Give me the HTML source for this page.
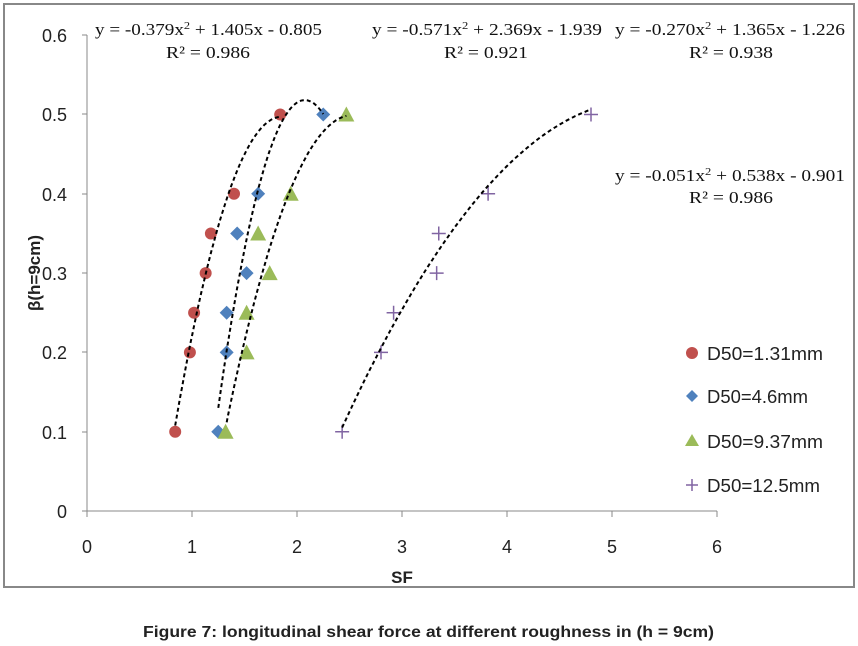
<!DOCTYPE html>
<html><head><meta charset="utf-8"><style>
body{margin:0;background:#fff;}
svg{display:block;}
.t{font-family:"Liberation Sans",sans-serif;fill:#222;}
.e{font-family:"Liberation Serif",serif;font-size:17px;fill:#111;}
</style></head><body>
<svg id="s" width="858" height="646" xmlns="http://www.w3.org/2000/svg">
<rect x="4" y="4" width="850" height="583" fill="#fff" stroke="#888" stroke-width="2"/>
<line x1="87" y1="35" x2="87" y2="511" stroke="#888"/>
<line x1="87" y1="511" x2="717" y2="511" stroke="#888"/>
<g stroke="#888">
<line x1="82" y1="35" x2="87" y2="35"/><line x1="82" y1="114" x2="87" y2="114"/><line x1="82" y1="194" x2="87" y2="194"/><line x1="82" y1="273" x2="87" y2="273"/><line x1="82" y1="352" x2="87" y2="352"/><line x1="82" y1="432" x2="87" y2="432"/><line x1="82" y1="511" x2="87" y2="511"/>
<line x1="87" y1="511" x2="87" y2="517"/><line x1="192" y1="511" x2="192" y2="517"/><line x1="297" y1="511" x2="297" y2="517"/><line x1="402" y1="511" x2="402" y2="517"/><line x1="507" y1="511" x2="507" y2="517"/><line x1="612" y1="511" x2="612" y2="517"/><line x1="717" y1="511" x2="717" y2="517"/>
</g>
<g class="t" text-anchor="end" style="font-size:18px">
<text x="67" y="42">0.6</text><text x="67" y="121">0.5</text><text x="67" y="201">0.4</text><text x="67" y="280">0.3</text><text x="67" y="359">0.2</text><text x="67" y="439">0.1</text><text x="67" y="518">0</text>
</g>
<g class="t" text-anchor="middle" style="font-size:18px">
<text x="87" y="553">0</text><text x="192" y="553">1</text><text x="297" y="553">2</text><text x="402" y="553">3</text><text x="507" y="553">4</text><text x="612" y="553">5</text><text x="717" y="553">6</text>
<text x="402" y="583" style="font-weight:bold;font-size:17px">SF</text>
<text transform="translate(40,273) rotate(-90)" style="font-weight:bold;font-size:17px">β(h=9cm)</text>
</g>
<text class="t" x="143" y="637" style="font-weight:bold;font-size:16px" textLength="571" lengthAdjust="spacingAndGlyphs">Figure 7: longitudinal shear force at different roughness in (h = 9cm)</text>
<g class="e">
<text x="95" y="35" textLength="227" lengthAdjust="spacingAndGlyphs">y = -0.379x<tspan dy="-6" style="font-size:11px">2</tspan><tspan dy="6"> + 1.405x - 0.805</tspan></text>
<text x="166" y="58" textLength="84" lengthAdjust="spacingAndGlyphs">R² = 0.986</text>
<text x="372" y="35" textLength="230" lengthAdjust="spacingAndGlyphs">y = -0.571x<tspan dy="-6" style="font-size:11px">2</tspan><tspan dy="6"> + 2.369x - 1.939</tspan></text>
<text x="444" y="58" textLength="84" lengthAdjust="spacingAndGlyphs">R² = 0.921</text>
<text x="615" y="35" textLength="230" lengthAdjust="spacingAndGlyphs">y = -0.270x<tspan dy="-6" style="font-size:11px">2</tspan><tspan dy="6"> + 1.365x - 1.226</tspan></text>
<text x="689" y="58" textLength="84" lengthAdjust="spacingAndGlyphs">R² = 0.938</text>
<text x="615" y="181" textLength="230" lengthAdjust="spacingAndGlyphs">y = -0.051x<tspan dy="-6" style="font-size:11px">2</tspan><tspan dy="6"> + 0.538x - 0.901</tspan></text>
<text x="689" y="203" textLength="84" lengthAdjust="spacingAndGlyphs">R² = 0.986</text>
</g>
<g id="pts"></g>
<g class="t" style="font-size:18px">
<circle cx="692" cy="353" r="6" fill="#C0504D"/><text x="707" y="360" textLength="116" lengthAdjust="spacingAndGlyphs">D50=1.31mm</text>
<path d="M692 390 L698 396 L692 402 L686 396Z" fill="#4F81BD"/><text x="707" y="403" textLength="101" lengthAdjust="spacingAndGlyphs">D50=4.6mm</text>
<path d="M692 434 L699 446 L685 446Z" fill="#9BBB59"/><text x="707" y="448" textLength="116" lengthAdjust="spacingAndGlyphs">D50=9.37mm</text>
<path d="M686 485 H698 M692 479 V491" stroke="#8064A2" stroke-width="1.5"/><text x="707" y="492" textLength="113" lengthAdjust="spacingAndGlyphs">D50=12.5mm</text>
</g>
</svg>
<script>
var X=function(v){return 87+v*105},Y=function(v){return 511-v*793};
var g=document.getElementById('pts'),h='';
function curve(a,b,c,x0,x1){var p=[];for(var i=0;i<=80;i++){var x=x0+(x1-x0)*i/80;p.push(X(x).toFixed(1)+','+Y(a*x*x+b*x+c).toFixed(1));}
h+='<polyline points="'+p.join(' ')+'" fill="none" stroke="#000" stroke-width="2" stroke-dasharray="4,3"/>';}
var R=[[0.84,.1],[0.98,.2],[1.02,.25],[1.13,.3],[1.18,.35],[1.40,.4],[1.84,.5]];
var B=[[1.25,.1],[1.33,.2],[1.33,.25],[1.52,.3],[1.43,.35],[1.63,.4],[2.25,.5]];
var G=[[1.32,.1],[1.52,.2],[1.52,.25],[1.74,.3],[1.63,.35],[1.94,.4],[2.47,.5]];
var P=[[2.43,.1],[2.8,.2],[2.92,.25],[3.33,.3],[3.35,.35],[3.82,.4],[4.8,.5]];
R.forEach(function(p){h+='<circle cx="'+X(p[0])+'" cy="'+Y(p[1])+'" r="6" fill="#C0504D"/>';});
B.forEach(function(p){var x=X(p[0]),y=Y(p[1]);h+='<path d="M'+x+' '+(y-7)+' L'+(x+7)+' '+y+' L'+x+' '+(y+7)+' L'+(x-7)+' '+y+'Z" fill="#4F81BD"/>';});
G.forEach(function(p){var x=X(p[0]),y=Y(p[1]);h+='<path d="M'+x+' '+(y-8)+' L'+(x+8)+' '+(y+7)+' L'+(x-8)+' '+(y+7)+'Z" fill="#9BBB59"/>';});
P.forEach(function(p){var x=X(p[0]),y=Y(p[1]);h+='<path d="M'+(x-7)+' '+y+' H'+(x+7)+' M'+x+' '+(y-7)+' V'+(y+7)+'" stroke="#8064A2" stroke-width="1.5"/>';});
curve(-0.379,1.405,-0.805,0.84,1.84);
curve(-0.571,2.369,-1.939,1.25,2.25);
curve(-0.270,1.365,-1.226,1.33,2.47);
curve(-0.051,0.538,-0.901,2.43,4.8);
g.innerHTML=h;
</script>
</body></html>
